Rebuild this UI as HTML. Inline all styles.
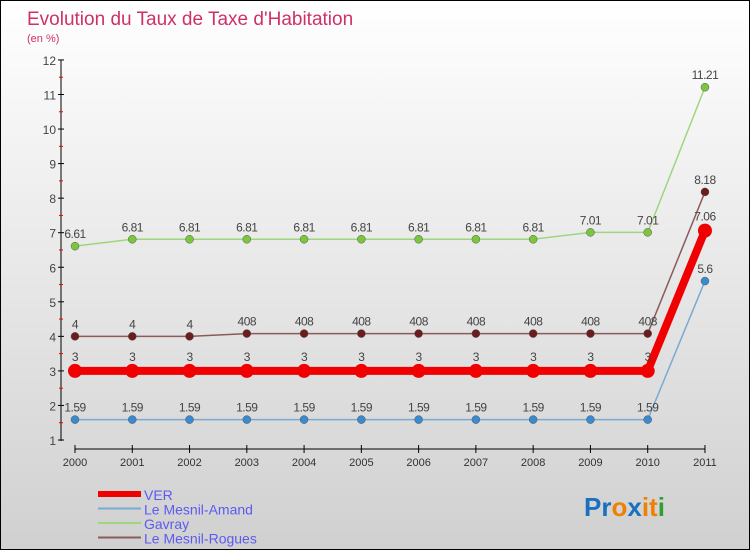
<!DOCTYPE html>
<html><head><meta charset="utf-8"><style>
body{margin:0;width:750px;height:550px;overflow:hidden;font-family:"Liberation Sans",sans-serif}
#c{position:absolute;left:0;top:0;width:748px;height:548px;border:1px solid #000;background:linear-gradient(#fff,#d0d0d0)}
</style></head><body>
<div id="c">
<svg id="s" width="748" height="548" xmlns="http://www.w3.org/2000/svg"></svg>
</div>
<script>
const years=["2000","2001","2002","2003","2004","2005","2006","2007","2008","2009","2010","2011"];
const yTicks=[1,2,3,4,5,6,7,8,9,10,11,12];
const ver=[3,3,3,3,3,3,3,3,3,3,3,7.06];
const mesnilAmand=[1.59,1.59,1.59,1.59,1.59,1.59,1.59,1.59,1.59,1.59,1.59,5.6];
const gavray=[6.61,6.81,6.81,6.81,6.81,6.81,6.81,6.81,6.81,7.01,7.01,11.21];
const mesnilRogues=[4,4,4,4.08,4.08,4.08,4.08,4.08,4.08,4.08,4.08,8.18];
const labels={ver:["3","3","3","3","3","3","3","3","3","3","3","7.06"],amand:["1.59","1.59","1.59","1.59","1.59","1.59","1.59","1.59","1.59","1.59","1.59","5.6"],gav:["6.61","6.81","6.81","6.81","6.81","6.81","6.81","6.81","6.81","7.01","7.01","11.21"],rog:["4","4","4","408","408","408","408","408","408","408","408","8.18"]};
const NS="http://www.w3.org/2000/svg";
const s=document.getElementById('s');
const X=i=>74+i*57.27, Y=v=>439-(v-1)*34.55;
function el(t,a,p){const e=document.createElementNS(NS,t);for(const k in a)e.setAttribute(k,a[k]);(p||s).appendChild(e);return e;}
function txt(x,y,str,a){const e=el('text',Object.assign({x:x,y:y},a));e.textContent=str;return e;}
let t=txt(26,24,"Evolution du Taux de Taxe d'Habitation",{fill:"#d0306a","font-size":19});

t=txt(26,41,"(en %)",{fill:"#d0306a","font-size":11});

// y axis
let ax=el('line',{x1:60,y1:59,x2:60,y2:440,stroke:"#000"});

yTicks.forEach(v=>{el('line',{x1:57,x2:63,y1:Y(v),y2:Y(v),stroke:"#000"});
 if(v<12)el('line',{x1:58,x2:62,y1:Y(v+0.5),y2:Y(v+0.5),stroke:"#e00"});
 const l=txt(55,Y(v)+5,String(v),{"text-anchor":"end","font-size":12,fill:"#444"});
 });
ax=el('line',{x1:X(0),y1:448,x2:X(11),y2:448,stroke:"#000"});

years.forEach((y,i)=>{el('line',{x1:X(i),x2:X(i),y1:444,y2:452,stroke:"#000"});
 const l=txt(X(i),465,y,{"text-anchor":"middle","font-size":11,fill:"#333"});
 });
function series(d,lab,line,dot,w,r,name){
 const g=el('g',{});
 el('polyline',{points:d.map((v,i)=>X(i)+','+Y(v)).join(' '),fill:"none",stroke:line,"stroke-width":w},g);
 d.forEach((v,i)=>{const c=el('circle',{cx:X(i),cy:Y(v),r:r,fill:dot,stroke:w>3?"none":"#555","stroke-width":0.5},g);
  
  txt(X(i),Y(v)-(w>3?10:8),lab[i],{"text-anchor":"middle","font-size":12,fill:"#444","letter-spacing":"-0.5"},g);});
}
series(gavray,labels.gav,"#9ed67e","#7cc63e",1.5,4,"gavray");
series(mesnilRogues,labels.rog,"#8b5a5a","#6b1c1c",1.5,4,"le-mesnil-rogues");
series(mesnilAmand,labels.amand,"#7aaad0","#3a8ad0",1.5,4,"le-mesnil-amand");
series(ver,labels.ver,"#f00000","#f00000",8,7,"ver");
// legend
const leg=[["VER","#f00000",6],["Le Mesnil-Amand","#7aaad0",2],["Gavray","#9ed67e",2],["Le Mesnil-Rogues","#8b5a5a",2]];
leg.forEach((l,i)=>{const g=el('g',{});
 const y=493+i*14.5;el('line',{x1:97,x2:140,y1:y,y2:y,stroke:l[1],"stroke-width":l[2]},g);
 txt(143,y+6,l[0],{"font-size":14,fill:"#5b5bf0"},g);});
const p=el('text',{x:583,y:515,"font-size":26,"font-weight":"bold"});

[["Pr","#1a70c0"],["o","#f08000"],["x","#1a70c0"],["it","#f08000"],["i","#30a030"]].forEach(a=>{const ts=el('tspan',{fill:a[1]},p);ts.textContent=a[0];});
</script>
</body></html>
